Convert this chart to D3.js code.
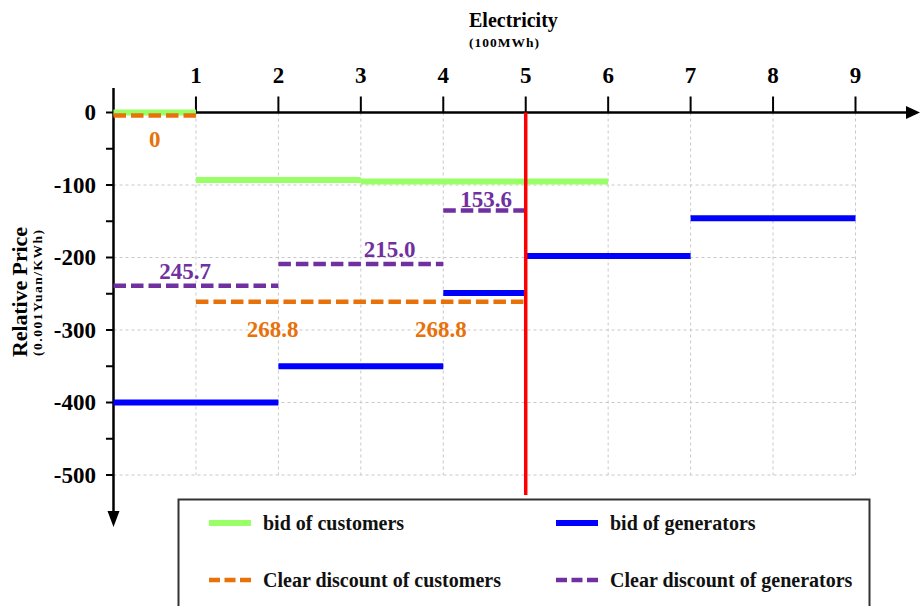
<!DOCTYPE html>
<html>
<head>
<meta charset="utf-8">
<script src="https://cdn.jsdelivr.net/npm/d3@7"></script>
<style>
  html, body { margin: 0; padding: 0; background: #fff; }
  svg text { font-family: 'Liberation Serif', 'Times New Roman', 'DejaVu Serif', serif; font-weight: 700; }
</style>
</head>
<body>
<svg id="chart" width="920" height="606"></svg>
<script>
// ---- data ----
const xTicks = [1, 2, 3, 4, 5, 6, 7, 8, 9];
const yTicks = [0, -100, -200, -300, -400, -500];
const yMinorTicks = [-50, -150, -250, -350, -450];
const gridY = [-100, -200, -300, -400, -500];

// segments: [start, end, value]
const customerBid = [[0, 1, 0], [1, 3, -93], [3, 6, -95]];
const generatorBid = [[0, 2, -400], [2, 4, -350], [4, 5, -249], [5, 7, -198], [7, 9, -146]];
const customerDiscount = [[0, 1, -4], [1, 5, -261]];
const generatorDiscount = [[0, 2, -239], [2, 4, -209], [4, 5, -135]];
const clearingQuantity = 5;

// value labels: [text, x, y]
const customerLabels = [["0", 0.5, -47], ["268.8", 1.93, -310], ["268.8", 3.97, -310]];
const generatorLabels = [["245.7", 0.87, -230], ["215.0", 3.35, -199], ["153.6", 4.52, -130]];

const seriesNames = ["bid of customers", "bid of generators", "Clear discount of customers", "Clear discount of generators"];

// ---- styles ----
const cGreen = "#99FF66", cBlue = "#0000FF", cOrange = "#E8710A", cPurple = "#7030A0";
const FONT = "'Liberation Serif', 'Times New Roman', 'DejaVu Serif', serif";

const svg = d3.select("#chart");
const x = d3.scaleLinear().domain([0, 9]).range([113.5, 855.5]);
const y = d3.scaleLinear().domain([0, -500]).range([112.5, 475]);

// grid
const grid = svg.append("g").attr("stroke", "#c8c8c8").attr("stroke-width", 1).attr("stroke-dasharray", "3,3");
grid.selectAll("line.v").data(xTicks).join("line")
  .attr("x1", d => x(d)).attr("x2", d => x(d)).attr("y1", y(0)).attr("y2", y(-500));
grid.selectAll("line.h").data(gridY).join("line")
  .attr("x1", x(0)).attr("x2", x(9)).attr("y1", d => y(d)).attr("y2", d => y(d));

// axes
const axisG = svg.append("g");
axisG.append("line").attr("x1", x(0)).attr("x2", 912).attr("y1", y(0)).attr("y2", y(0))
  .attr("stroke", "#000").attr("stroke-width", 2.5);
axisG.append("path").attr("d", `M920,${y(0)} L906,${y(0) - 6.5} L906,${y(0) + 6.5} Z`).attr("fill", "#000");
axisG.selectAll("line.xt").data(xTicks).join("line")
  .attr("x1", d => x(d)).attr("x2", d => x(d)).attr("y1", 96.5).attr("y2", y(0))
  .attr("stroke", "#000").attr("stroke-width", 2);
axisG.selectAll("text.xt").data(xTicks).join("text")
  .attr("x", d => x(d)).attr("y", 83).attr("text-anchor", "middle")
  .attr("font-family", FONT).attr("font-weight", "bold")
  .attr("font-size", 23).text(d => d);

axisG.append("line").attr("x1", x(0)).attr("x2", x(0)).attr("y1", 88).attr("y2", 515)
  .attr("stroke", "#000").attr("stroke-width", 2.5);
axisG.append("path").attr("d", `M${x(0)},527 L${x(0) - 6},511 L${x(0) + 6},511 Z`).attr("fill", "#000");
axisG.selectAll("line.yt").data(yTicks.concat(yMinorTicks)).join("line")
  .attr("x1", 106).attr("x2", x(0)).attr("y1", d => y(d)).attr("y2", d => y(d))
  .attr("stroke", "#000").attr("stroke-width", 2);
axisG.selectAll("text.yt").data(yTicks).join("text")
  .attr("x", 96).attr("y", d => y(d) + 7.5).attr("text-anchor", "end")
  .attr("font-family", FONT).attr("font-weight", "bold")
  .attr("font-size", 23).text(d => d);

// axis titles
function title(sel) { return sel.attr("font-family", FONT).attr("font-weight", "bold"); }
title(svg.append("text")).attr("x", 469).attr("y", 27).attr("font-size", 20).text("Electricity");
title(svg.append("text")).attr("x", 469).attr("y", 47).attr("font-size", 13.5)
  .attr("textLength", 70).attr("lengthAdjust", "spacing").text("(100MWh)");
title(svg.append("text")).attr("transform", "translate(27,292) rotate(-90)").attr("text-anchor", "middle")
  .attr("font-size", 22).attr("textLength", 130).attr("lengthAdjust", "spacing").text("Relative Price");
title(svg.append("text")).attr("transform", "translate(42,293) rotate(-90)").attr("text-anchor", "middle")
  .attr("font-size", 13.5).attr("textLength", 126).attr("lengthAdjust", "spacing").text("(0.001Yuan/KWh)");

// series
function drawSegs(data, color, width, dash) {
  svg.append("g").selectAll("line").data(data).join("line")
    .attr("x1", d => x(d[0])).attr("x2", d => x(d[1]))
    .attr("y1", d => y(d[2])).attr("y2", d => y(d[2]))
    .attr("stroke", color).attr("stroke-width", width)
    .attr("stroke-dasharray", dash || null);
}
drawSegs(customerBid, cGreen, 6);
drawSegs(generatorBid, cBlue, 6);
drawSegs(customerDiscount, cOrange, 4.5, "12.5,5");
drawSegs(generatorDiscount, cPurple, 4.5, "12.5,5");

svg.append("line").attr("x1", x(clearingQuantity)).attr("x2", x(clearingQuantity))
  .attr("y1", y(0)).attr("y2", 495).attr("stroke", "#FF0000").attr("stroke-width", 3.5);

function drawLabels(data, color) {
  svg.append("g").selectAll("text").data(data).join("text")
    .attr("x", d => x(d[1])).attr("y", d => y(d[2])).attr("text-anchor", "middle")
    .attr("font-family", FONT).attr("font-weight", "bold")
    .attr("font-size", 23).attr("fill", color).text(d => d[0]);
}
drawLabels(customerLabels, cOrange);
drawLabels(generatorLabels, cPurple);

// legend
const leg = svg.append("g");
leg.append("rect").attr("x", 178.5).attr("y", 499.5).attr("width", 691).attr("height", 130)
  .attr("fill", "#fff").attr("stroke", "#333").attr("stroke-width", 2);
const legItems = [
  { name: seriesNames[0], color: cGreen, w: 6, dash: null, lx: 209, ly: 523 },
  { name: seriesNames[1], color: cBlue, w: 6, dash: null, lx: 556, ly: 523 },
  { name: seriesNames[2], color: cOrange, w: 4.5, dash: "11,4.5", lx: 209, ly: 580 },
  { name: seriesNames[3], color: cPurple, w: 4.5, dash: "11,4.5", lx: 556, ly: 580 }
];
const li = leg.selectAll("g.item").data(legItems).join("g");
li.append("line").attr("x1", d => d.lx).attr("x2", d => d.lx + 42)
  .attr("y1", d => d.ly).attr("y2", d => d.ly)
  .attr("stroke", d => d.color).attr("stroke-width", d => d.w).attr("stroke-dasharray", d => d.dash);
li.append("text").attr("x", d => d.lx + 54).attr("y", d => d.ly + 7)
  .attr("font-family", FONT).attr("font-weight", "bold")
  .attr("font-size", 20).attr("fill", "#111").text(d => d.name);
</script>
</body>
</html>
